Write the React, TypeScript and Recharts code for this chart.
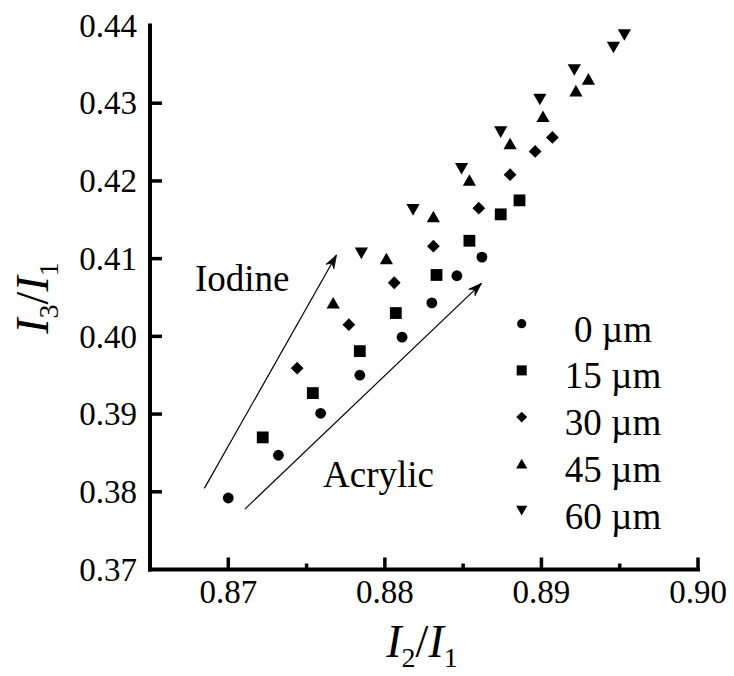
import React from 'react';
import { ScatterChart, Scatter, XAxis, YAxis, ReferenceLine, Legend } from 'recharts';

// ---- data ----
const X_0UM = [0.8700, 0.8732, 0.8759, 0.8784, 0.8811, 0.8830, 0.8846, 0.8862];
const Y_0UM = [0.3792, 0.3847, 0.3901, 0.3950, 0.3999, 0.4043, 0.4078, 0.4102];
const X_15UM = [0.8722, 0.8754, 0.8784, 0.8807, 0.8833, 0.8854, 0.8874, 0.8886];
const Y_15UM = [0.3870, 0.3927, 0.3981, 0.4030, 0.4079, 0.4123, 0.4157, 0.4175];
const X_30UM = [0.8744, 0.8777, 0.8806, 0.8831, 0.8860, 0.8880, 0.8896, 0.8907];
const Y_30UM = [0.3959, 0.4015, 0.4069, 0.4116, 0.4165, 0.4208, 0.4238, 0.4256];
const X_45UM = [0.8767, 0.8801, 0.8831, 0.8854, 0.8880, 0.8901, 0.8922, 0.8930];
const Y_45UM = [0.4043, 0.4100, 0.4154, 0.4201, 0.4248, 0.4283, 0.4316, 0.4331];
const X_60UM = [0.8785, 0.8818, 0.8849, 0.8874, 0.8899, 0.8921, 0.8946, 0.8953];
const Y_60UM = [0.4107, 0.4163, 0.4216, 0.4263, 0.4305, 0.4343, 0.4372, 0.4388];

const SERIES_NAMES = ['0 \u00b5m', '15 \u00b5m', '30 \u00b5m', '45 \u00b5m', '60 \u00b5m'];
const SERIES_SHAPES = ['circle', 'square', 'diamond', 'triangle', 'triangleDown'];

const X_DOMAIN = [0.865, 0.9];
const Y_DOMAIN = [0.37, 0.44];
const X_TICKS = [0.87, 0.875, 0.88, 0.885, 0.89, 0.895, 0.9];
const Y_TICKS = [0.37, 0.38, 0.39, 0.4, 0.41, 0.42, 0.43, 0.44];

const IODINE_ARROW = [[0.86847, 0.38044], [0.87691, 0.41046]];
const ACRYLIC_ARROW = [[0.87106, 0.37777], [0.88617, 0.40682]];
const IODINE_LABEL = 'Iodine';
const ACRYLIC_LABEL = 'Acrylic';

const FONT = 'Liberation Serif';

const toPoints = (xs: number[], ys: number[]) => xs.map((x, i) => ({ x, y: ys[i] }));
const SERIES_DATA = [
  toPoints(X_0UM, Y_0UM),
  toPoints(X_15UM, Y_15UM),
  toPoints(X_30UM, Y_30UM),
  toPoints(X_45UM, Y_45UM),
  toPoints(X_60UM, Y_60UM),
];

function Marker({ kind, cx, cy, s = 1 }: { kind: string; cx: number; cy: number; s?: number }) {
  if (cx == null || cy == null) return null;
  switch (kind) {
    case 'circle':
      return <circle cx={cx} cy={cy} r={5.4 * s} fill="#000" />;
    case 'square':
      return <rect x={cx - 5.9 * s} y={cy - 5.9 * s} width={11.8 * s} height={11.8 * s} fill="#000" />;
    case 'diamond':
      return (
        <polygon
          points={`${cx},${cy - 6.4 * s} ${cx + 6.4 * s},${cy} ${cx},${cy + 6.4 * s} ${cx - 6.4 * s},${cy}`}
          fill="#000"
        />
      );
    case 'triangle':
      return (
        <polygon
          points={`${cx},${cy - 6 * s} ${cx + 6.6 * s},${cy + 5.6 * s} ${cx - 6.6 * s},${cy + 5.6 * s}`}
          fill="#000"
        />
      );
    case 'triangleDown':
      return (
        <polygon
          points={`${cx},${cy + 6 * s} ${cx + 6.6 * s},${cy - 5.6 * s} ${cx - 6.6 * s},${cy - 5.6 * s}`}
          fill="#000"
        />
      );
    default:
      return null;
  }
}

const isMajor = (v: number) => Math.abs(Math.round(v * 100) - v * 100) < 1e-6;

const BottomTick = (p: any) => {
  const v = p.payload.value;
  const major = isMajor(v);
  return (
    <g>
      <line x1={p.x} x2={p.x} y1={p.y} y2={p.y - (major ? 12 : 6)} stroke="#000" strokeWidth={3.5} />
      {major && (
        <text x={p.x} y={p.y + 33} textAnchor="middle" fontSize={33} fontFamily={FONT} fill="#000">
          {v.toFixed(2)}
        </text>
      )}
    </g>
  );
};

const TopTick = (p: any) => {
  const v = p.payload.value;
  const major = isMajor(v);
  return <line x1={p.x} x2={p.x} y1={p.y} y2={p.y + (major ? 12 : 6)} stroke="#000" strokeWidth={3.5} />;
};

const LeftTick = (p: any) => {
  const v = p.payload.value;
  const edge = Math.abs(v - Y_DOMAIN[0]) < 1e-9 || Math.abs(v - Y_DOMAIN[1]) < 1e-9;
  return (
    <g>
      {!edge && <line x1={p.x} x2={p.x + 12} y1={p.y} y2={p.y} stroke="#000" strokeWidth={3.5} />}
      <text x={p.x - 13} y={p.y} dy="0.34em" textAnchor="end" fontSize={33} fontFamily={FONT} fill="#000">
        {v.toFixed(2)}
      </text>
    </g>
  );
};

const RightTick = (p: any) => {
  const v = p.payload.value;
  const edge = Math.abs(v - Y_DOMAIN[0]) < 1e-9 || Math.abs(v - Y_DOMAIN[1]) < 1e-9;
  if (edge) return <g />;
  return <line x1={p.x} x2={p.x - 12} y1={p.y} y2={p.y} stroke="#000" strokeWidth={3.5} />;
};

const ArrowShape = (props: any) => {
  const { x1, y1, x2, y2 } = props;
  const ang = Math.atan2(y2 - y1, x2 - x1);
  const len = 14;
  const spread = 0.33;
  const ax = x2 - len * Math.cos(ang - spread);
  const ay = y2 - len * Math.sin(ang - spread);
  const bx = x2 - len * Math.cos(ang + spread);
  const by = y2 - len * Math.sin(ang + spread);
  const nx = x2 - 9 * Math.cos(ang);
  const ny = y2 - 9 * Math.sin(ang);
  return (
    <g>
      <line x1={x1} y1={y1} x2={x2} y2={y2} stroke="#000" strokeWidth={1.2} />
      <polygon points={`${x2},${y2} ${ax},${ay} ${nx},${ny} ${bx},${by}`} fill="#000" stroke="#000" strokeWidth={0.8} />
    </g>
  );
};

const LegendBox = () => (
  <svg width={200} height={250} style={{ display: 'block', overflow: 'visible' }}>
    {SERIES_NAMES.map((name, i) => {
      const base = 43.7 + 46.7 * i;
      return (
        <g key={name}>
          <Marker kind={SERIES_SHAPES[i]} cx={23.7} cy={base - 18} s={0.85} />
          <text x={115} y={base} textAnchor="middle" fontSize={37} fontFamily={FONT} fill="#000">
            {name}
          </text>
        </g>
      );
    })}
  </svg>
);

const axisLineStyle = { stroke: '#000', strokeWidth: 4, strokeLinecap: 'square' as const };

export default function App() {
  return (
    <div style={{ width: 726, height: 668, fontFamily: FONT }}>
      <ScatterChart
        width={726}
        height={668}
        margin={{ top: 17.5, right: 36, bottom: 66.5, left: 82 }}
        style={{ fontFamily: FONT }}
      >
        <XAxis
          xAxisId="b"
          type="number"
          dataKey="x"
          domain={X_DOMAIN}
          allowDataOverflow
          ticks={X_TICKS}
          interval={0}
          tickSize={0}
          tickMargin={0}
          tickLine={false}
          axisLine={axisLineStyle}
          tick={<BottomTick />}
          height={40}
        />
        <XAxis
          xAxisId="t"
          orientation="top"
          type="number"
          dataKey="x"
          domain={X_DOMAIN}
          allowDataOverflow
          ticks={X_TICKS}
          interval={0}
          tickSize={0}
          tickMargin={0}
          tickLine={false}
          axisLine={axisLineStyle}
          tick={<TopTick />}
          height={0}
        />
        <YAxis
          yAxisId="l"
          type="number"
          dataKey="y"
          domain={Y_DOMAIN}
          allowDataOverflow
          ticks={Y_TICKS}
          interval={0}
          tickSize={0}
          tickMargin={0}
          tickLine={false}
          axisLine={axisLineStyle}
          tick={<LeftTick />}
          width={60}
        />
        <YAxis
          yAxisId="r"
          orientation="right"
          type="number"
          dataKey="y"
          domain={Y_DOMAIN}
          allowDataOverflow
          ticks={Y_TICKS}
          interval={0}
          tickSize={0}
          tickMargin={0}
          tickLine={false}
          axisLine={axisLineStyle}
          tick={<RightTick />}
          width={0}
        />
        {SERIES_DATA.map((data, i) => (
          <Scatter
            key={SERIES_NAMES[i]}
            name={SERIES_NAMES[i]}
            data={data}
            xAxisId="b"
            yAxisId="l"
            fill="#000"
            isAnimationActive={false}
            shape={(p: any) => <Marker kind={SERIES_SHAPES[i]} cx={p.cx} cy={p.cy} />}
          />
        ))}
        <ReferenceLine
          xAxisId="b"
          yAxisId="l"
          segment={[
            { x: IODINE_ARROW[0][0], y: IODINE_ARROW[0][1] },
            { x: IODINE_ARROW[1][0], y: IODINE_ARROW[1][1] },
          ]}
          stroke="#000"
          ifOverflow="visible"
          shape={ArrowShape}
        />
        <ReferenceLine
          xAxisId="b"
          yAxisId="l"
          segment={[
            { x: ACRYLIC_ARROW[0][0], y: ACRYLIC_ARROW[0][1] },
            { x: ACRYLIC_ARROW[1][0], y: ACRYLIC_ARROW[1][1] },
          ]}
          stroke="#000"
          ifOverflow="visible"
          shape={ArrowShape}
        />
        <Legend
          layout="horizontal"
          verticalAlign="middle"
          align="center"
          wrapperStyle={{ position: 'absolute', left: 490, top: 290, width: 200, height: 250 }}
          content={() => <LegendBox />}
        />
        <text x={187} y={283} fontSize={37} fontFamily={FONT} fill="#000">{IODINE_LABEL}</text>
        <text x={315} y={479} fontSize={37} fontFamily={FONT} fill="#000">{ACRYLIC_LABEL}</text>
        <text x={414} y={649} textAnchor="middle" fontSize={46} fontFamily={FONT} fill="#000">
          <tspan fontStyle="italic">I</tspan>
          <tspan fontSize={28} dy={10}>2</tspan>
          <tspan dy={-10}>/</tspan>
          <tspan fontStyle="italic">I</tspan>
          <tspan fontSize={28} dy={10}>1</tspan>
        </text>
        <text
          x={40}
          y={290}
          transform="rotate(-90 40 290)"
          textAnchor="middle"
          fontSize={46}
          fontFamily={FONT}
          fill="#000"
        >
          <tspan fontStyle="italic">I</tspan>
          <tspan fontSize={28} dy={10}>3</tspan>
          <tspan dy={-10}>/</tspan>
          <tspan fontStyle="italic">I</tspan>
          <tspan fontSize={28} dy={10}>1</tspan>
        </text>
      </ScatterChart>
    </div>
  );
}
